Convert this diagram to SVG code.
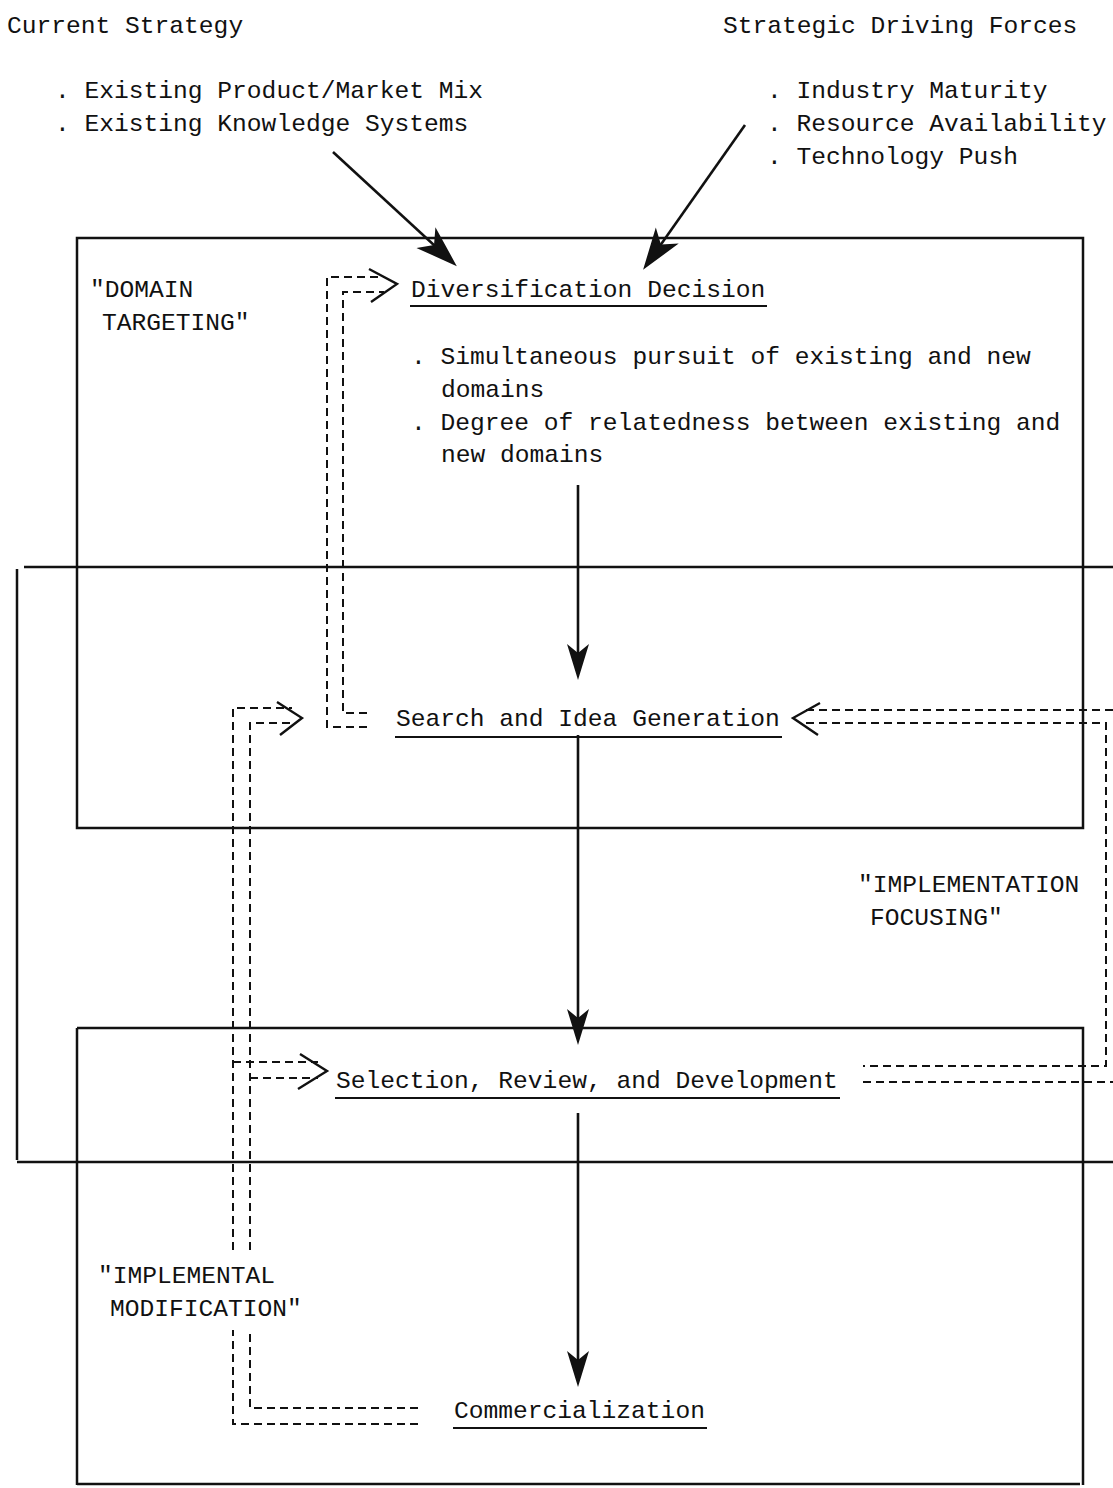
<svg xmlns="http://www.w3.org/2000/svg" width="1113" height="1488" viewBox="0 0 1113 1488">
<style>
text{font-family:"Liberation Mono","DejaVu Sans Mono",monospace;font-size:24.6px;fill:#111}
.frame{fill:none;stroke:#111;stroke-width:2.5}
.ul{stroke:#111;stroke-width:2.2}
.dash{fill:none;stroke:#111;stroke-width:2;stroke-dasharray:8 5}
.chev{fill:none;stroke:#111;stroke-width:2.4;stroke-linejoin:miter}
.arrow{fill:none;stroke:#111;stroke-width:2.6}
</style>
<defs>
<marker id="ah" markerUnits="userSpaceOnUse" markerWidth="40" markerHeight="24" refX="26" refY="11" orient="auto">
<path d="M36,11 L0,0 L9,11 L0,22 Z" fill="#111"/>
</marker>
<marker id="ahb" markerUnits="userSpaceOnUse" markerWidth="46" markerHeight="30" refX="30" refY="14" orient="auto">
<path d="M42,14 L0,0 L11,14 L0,28 Z" fill="#111"/>
</marker>
</defs>
<rect width="1113" height="1488" fill="#fff"/>

<g id="frames">
<g id="frame-domain-targeting"><path class="frame" d="M77,238 H1083 V828 H77 Z"/></g>
<g id="frame-implementation-focusing"><path class="frame" d="M24,567 H1113 M17,569 V1160 M17,1162 H1113"/></g>
<g id="frame-implemental-modification"><path class="frame" d="M77,1028 H1083 V1485 M77,1028 V1485 M77,1484 H1080"/></g>
</g>

<g id="current-strategy">
<text x="7" y="33">Current Strategy</text>
<text x="55" y="98">. Existing Product/Market Mix</text>
<text x="55" y="131">. Existing Knowledge Systems</text>
</g>
<g id="strategic-driving-forces">
<text x="723" y="33">Strategic Driving Forces</text>
<text x="767" y="98">. Industry Maturity</text>
<text x="767" y="131">. Resource Availability</text>
<text x="767" y="164">. Technology Push</text>
</g>
<g id="label-domain-targeting">
<text x="90" y="297">"DOMAIN</text>
<text x="102" y="330">TARGETING"</text>
</g>
<g id="diversification-decision">
<text x="411" y="297">Diversification Decision</text>
<line class="ul" x1="410" y1="306" x2="767" y2="306"/>
<text x="411" y="364">. Simultaneous pursuit of existing and new</text>
<text x="441" y="397">domains</text>
<text x="411" y="430">. Degree of relatedness between existing and</text>
<text x="441" y="462">new domains</text>
</g>
<g id="search-idea-generation">
<text x="396" y="726">Search and Idea Generation</text>
<line class="ul" x1="395" y1="737" x2="782" y2="737"/>
</g>
<g id="label-implementation-focusing">
<text x="858" y="892">"IMPLEMENTATION</text>
<text x="870" y="925">FOCUSING"</text>
</g>
<g id="selection-review-development">
<text x="336" y="1088">Selection, Review, and Development</text>
<line class="ul" x1="335" y1="1098" x2="840" y2="1098"/>
</g>
<g id="label-implemental-modification">
<text x="98" y="1283">"IMPLEMENTAL</text>
<text x="110" y="1316">MODIFICATION"</text>
</g>
<g id="commercialization">
<text x="454" y="1418">Commercialization</text>
<line class="ul" x1="453" y1="1428" x2="707" y2="1428"/>
</g>

<g id="connectors">
<path class="arrow" d="M333,152 L448,258" marker-end="url(#ahb)"/>
<path class="arrow" d="M745,125 L650,260" marker-end="url(#ahb)"/>
<path class="arrow" d="M578,485 V670" marker-end="url(#ah)"/>
<path class="arrow" d="M578,735 V1035" marker-end="url(#ah)"/>
<path class="arrow" d="M578,1113 V1377" marker-end="url(#ah)"/>

<path class="dash" d="M367,727 H327 V277 H384"/>
<path class="dash" d="M367,713 H343 V292 H384"/>
<path class="chev" d="M369,269 L397,284 L371,302"/>

<path class="dash" d="M418,1424 H233 V1330 M233,1250 V708 H292"/>
<path class="dash" d="M418,1408 H250 V1330 M250,1250 V723 H292"/>
<path class="chev" d="M277,702 L302,718 L280,735"/>
<path class="dash" d="M233,1062 H318"/>
<path class="dash" d="M250,1078 H318"/>
<path class="chev" d="M300,1054 L327,1071 L298,1089"/>

<path class="dash" d="M806,710 H1113"/>
<path class="dash" d="M806,723 H1106 V1066 H863"/>
<path class="dash" d="M863,1082 H1113"/>
<path class="chev" d="M820,703 L793,718 L818,735"/>
</g>
</svg>
